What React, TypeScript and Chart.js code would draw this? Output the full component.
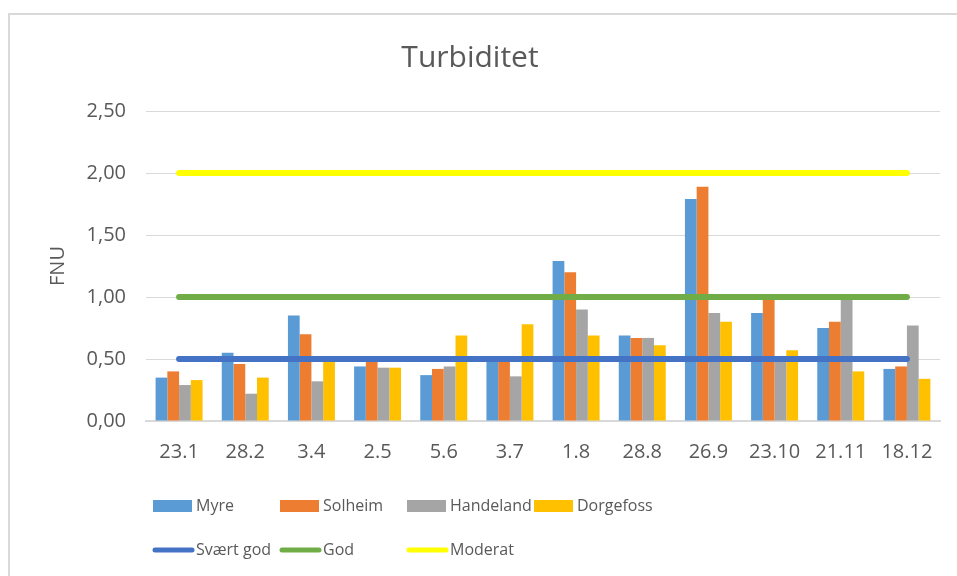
import React, { useEffect, useRef } from "react";
import { Chart, registerables } from "chart.js";

Chart.register(...registerables);

const categories = ["23.1", "28.2", "3.4", "2.5", "5.6", "3.7", "1.8", "28.8", "26.9", "23.10", "21.11", "18.12"];
const myre = [0.35, 0.55, 0.85, 0.44, 0.37, 0.51, 1.29, 0.69, 1.79, 0.87, 0.75, 0.42];
const solheim = [0.40, 0.46, 0.70, 0.49, 0.42, 0.49, 1.20, 0.67, 1.89, 0.98, 0.80, 0.44];
const handeland = [0.29, 0.22, 0.32, 0.43, 0.44, 0.36, 0.90, 0.67, 0.87, 0.49, 0.98, 0.77];
const dorgefoss = [0.33, 0.35, 0.48, 0.43, 0.69, 0.78, 0.69, 0.61, 0.80, 0.57, 0.40, 0.34];
const svaertGod = [0.5, 0.5, 0.5, 0.5, 0.5, 0.5, 0.5, 0.5, 0.5, 0.5, 0.5, 0.5];
const god = [1, 1, 1, 1, 1, 1, 1, 1, 1, 1, 1, 1];
const moderat = [2, 2, 2, 2, 2, 2, 2, 2, 2, 2, 2, 2];

const TEXT = "#595959";
const GRID = "#d9d9d9";
const FONT = "'Open Sans', sans-serif";

const framePlugin = {
  id: "frame",
  beforeDraw(chart: any) {
    const ctx = chart.ctx;
    ctx.save();
    ctx.strokeStyle = GRID;
    ctx.lineWidth = 2;
    ctx.strokeRect(9, 14, chart.width + 20, chart.height + 20);
    ctx.restore();
  },
};

const legendPlugin = {
  id: "customLegend",
  afterDraw(chart: any) {
    const ctx = chart.ctx;
    const ds = chart.data.datasets;
    const bars = ds.filter((d: any) => d.type !== "line");
    const lines = ds.filter((d: any) => d.type === "line");
    const x0 = chart.chartArea.left + 7;
    const colW = 127;
    ctx.save();
    ctx.font = `16px ${FONT}`;
    ctx.textBaseline = "middle";
    ctx.textAlign = "left";
    bars.forEach((d: any, i: number) => {
      const x = x0 + i * colW;
      const y = 506;
      ctx.fillStyle = d.backgroundColor;
      ctx.fillRect(x, y - 6, 39, 12);
      ctx.fillStyle = TEXT;
      ctx.fillText(d.label, x + 43, y);
    });
    lines.forEach((d: any, i: number) => {
      const x = x0 + i * colW;
      const y = 550;
      ctx.strokeStyle = d.borderColor;
      ctx.lineWidth = 5;
      ctx.lineCap = "round";
      ctx.beginPath();
      ctx.moveTo(x + 2, y);
      ctx.lineTo(x + 39, y);
      ctx.stroke();
      ctx.fillStyle = TEXT;
      ctx.fillText(d.label, x + 43, y);
    });
    ctx.restore();
  },
};

export default function App() {
  const ref = useRef<HTMLCanvasElement>(null);
  useEffect(() => {
    if (!ref.current) return;
    const barDs = (label: string, data: number[], color: string) => ({
      type: "bar" as const,
      label,
      data,
      backgroundColor: color,
      borderWidth: 0,
      order: 2,
    });
    const lineDs = (label: string, data: number[], color: string) => ({
      type: "line" as const,
      label,
      data,
      borderColor: color,
      backgroundColor: color,
      borderWidth: 6,
      borderCapStyle: "round" as const,
      pointRadius: 0,
      fill: false,
      order: 1,
    });
    const chart = new Chart(ref.current, {
      type: "bar",
      data: {
        labels: categories,
        datasets: [
          barDs("Myre", myre, "#5B9BD5"),
          barDs("Solheim", solheim, "#ED7D31"),
          barDs("Handeland", handeland, "#A5A5A5"),
          barDs("Dorgefoss", dorgefoss, "#FFC000"),
          lineDs("Svært god", svaertGod, "#4472C4"),
          lineDs("God", god, "#70AD47"),
          lineDs("Moderat", moderat, "#FFFF00"),
        ] as any,
      },
      options: {
        animation: false,
        responsive: true,
        maintainAspectRatio: false,
        layout: { padding: { left: 0, right: 17, top: 0, bottom: 0 } },
        datasets: { bar: { barPercentage: 1, categoryPercentage: 0.71 } },
        plugins: {
          legend: { display: false },
          tooltip: { enabled: false },
          title: {
            display: true,
            text: "Turbiditet",
            color: TEXT,
            font: { family: FONT, size: 30, weight: "normal" },
            padding: { top: 40, bottom: 35 },
          },
        },
        scales: {
          x: {
            offset: true,
            grid: { display: false, drawTicks: false },
            border: { display: true, color: GRID, width: 2 },
            ticks: { color: TEXT, font: { family: FONT, size: 20 }, padding: 19, maxRotation: 0, autoSkip: false },
            afterFit: (s: any) => {
              s.height = 155;
            },
          },
          y: {
            min: 0,
            max: 2.5,
            grid: { color: GRID, lineWidth: 1, drawTicks: false },
            border: { display: false },
            ticks: {
              stepSize: 0.5,
              color: TEXT,
              padding: 20,
              font: { family: FONT, size: 20 },
              callback: (v: any) => Number(v).toFixed(2).replace(".", ","),
            },
            title: {
              display: true,
              text: "FNU",
              color: TEXT,
              font: { family: FONT, size: 20 },
              padding: { top: 46, bottom: 0 },
            },
            afterFit: (s: any) => {
              s.width = 146;
            },
          },
        },
      },
      plugins: [framePlugin, legendPlugin],
    });
    return () => chart.destroy();
  }, []);
  return (
    <div style={{ position: "absolute", left: 0, top: 0, width: 957, height: 576, background: "#fff" }}>
      <canvas ref={ref} />
    </div>
  );
}
